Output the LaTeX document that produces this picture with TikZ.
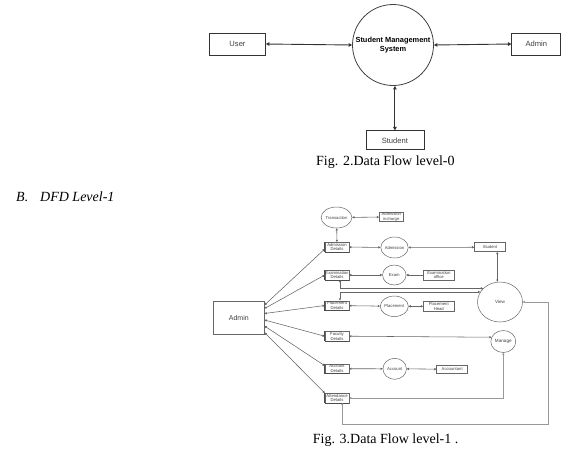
\documentclass[tikz,border=0pt]{standalone}
\usepackage{fontspec}
\setmainfont{Liberation Serif}
\newfontfamily\arialfont{Liberation Sans}
\usetikzlibrary{shapes.geometric,arrows.meta}

\begin{document}
\begin{tikzpicture}[x=1pt,y=-1pt,
        boxzero/.style={draw=black!80, line width=0.7pt, minimum height=22pt, inner sep=0pt,
            text=black!75, font=\arialfont\fontsize{7.6}{9}\selectfont},
        flowzero/.style={draw=black!80, line width=0.9pt,
            {Triangle[length=3.5pt,width=3.5pt]}-{Triangle[length=3.5pt,width=3.5pt]}},
        lonebox/.style={draw=black!60, line width=0.5pt, inner sep=0pt, minimum width=31pt,
            minimum height=9pt, align=center, text=black!75,
            font=\arialfont\fontsize{4.2}{4.6}\selectfont},
        store/.style={lonebox, minimum width=24pt, minimum height=9.5pt,
            append after command={(\tikzlastnode.north west) edge[line width=0.9pt, draw=black!70] (\tikzlastnode.south west)
                (\tikzlastnode.south west) edge[line width=0.9pt, draw=black!70] (\tikzlastnode.south east)}},
        proc/.style={ellipse, draw=black!60, line width=0.5pt, inner sep=0pt, minimum width=23.5pt,
            minimum height=21pt, text=black!75, font=\arialfont\fontsize{4.2}{4.6}\selectfont},
        flow/.style={draw=black!60, line width=0.55pt,
            {Triangle[length=2.2pt,width=2.2pt]}-{Triangle[length=2.2pt,width=2.2pt]}},
        flowone/.style={draw=black!60, line width=0.55pt, -{Triangle[length=2.2pt,width=2.2pt]}},
        flowwide/.style={flow, draw=black!40, line width=1pt}
    ]
    \fill[white] (0,0) rectangle (583,461);
    \useasboundingbox (0,0) rectangle (583,461);

    % level 0
    \node[boxzero, minimum width=56pt] (user) at (237.5,44) {User};
    \node[circle, draw=black!75, line width=0.8pt, minimum size=81pt, inner sep=0pt, align=center,
        font=\arialfont\bfseries\fontsize{7.4}{8.6}\selectfont] (sms) at (393,45) {Student Management\\System};
    \node[boxzero, minimum width=49pt] (admin) at (536.3,44) {Admin};
    \node[boxzero, minimum width=58pt, minimum height=19pt] (stud) at (394.9,140.3) {Student};

    \draw[flowzero] (user.east) -- (sms.west);
    \draw[flowzero] (sms.east) -- (admin.west);
    \draw[flowzero] (stud.north) -- (stud.north |- sms.south);

    \node[anchor=base west, inner sep=0pt, font=\fontsize{14}{16}\selectfont] (capzero) at (316,165.7) {Fig. 2.Data Flow level-0};
    \node[anchor=base west, inner sep=0pt, font=\itshape\fontsize{14}{16}\selectfont] (secb) at (16,201) {B.};
    \node[anchor=base west, inner sep=0pt, font=\itshape\fontsize{14}{16}\selectfont] (sect) at (40,201) {DFD Level-1};

    % level 1
    \node[lonebox, minimum width=51pt, minimum height=32.6pt, font=\arialfont\fontsize{7}{8}\selectfont] (adm) at (238.8,318) {Admin};
    \node[proc] (trans) at (336.5,217.5) {Transaction};
    \node[lonebox, minimum width=24pt, minimum height=9.4pt] (inch) at (391.3,217) {Admission\\incharge};
    \node[store] (admd) at (337,247) {Admission\\Details};
    \node[proc] (admis) at (394.5,247.5) {Admission};
    \node[lonebox] (stu) at (490,247.2) {Student};
    \node[store] (exd) at (337,275) {Examination\\Details};
    \node[proc, minimum height=20pt] (exam) at (394.3,275) {Exam};
    \node[lonebox, minimum height=10pt] (exoff) at (438.8,275) {Examination\\office};
    \node[store] (pld) at (337,305.5) {Placement\\Details};
    \node[proc, minimum height=20.5pt] (place) at (394.3,306.3) {Placement};
    \node[lonebox, minimum height=9.4pt] (plhead) at (438.8,306.3) {Placement\\Head};
    \node[store] (facd) at (337,336.2) {Faculty\\Details};
    \node[store] (accd) at (337,368.7) {Account\\Details};
    \node[proc] (acct) at (394.7,368.8) {Account};
    \node[lonebox, minimum height=8.3pt] (accnt) at (452.2,369.2) {Accountant};
    \node[store] (attd) at (337,398) {Attendance\\Details};
    \node[proc, minimum width=45pt, minimum height=40pt, font=\arialfont\fontsize{4.6}{5}\selectfont] (view) at (500,302) {View};
    \node[proc, minimum width=25pt, minimum height=22pt, font=\arialfont\fontsize{4.6}{5}\selectfont] (manage) at (503.3,341.5) {Manage};

    \path[flow] (trans) edge (inch)
        (trans) edge (admd)
        (admd) edge (admis)
        (admis) edge (stu)
        (exd) edge (exam)
        (pld) edge (place)
        (place) edge (plhead)
        (accd) edge (acct)
        (acct) edge (accnt);
    \path[flowone] (exoff) edge (exam);

    \path[flow] ([yshift=13pt]adm.east) edge ([yshift=-2pt]admd.west)
        ([yshift=9.5pt]adm.east) edge (exd.west)
        ([yshift=4.5pt]adm.east) edge (pld.west)
        ([yshift=-2pt]adm.east) edge (facd.west)
        ([yshift=-8pt]adm.east) edge ([yshift=3pt]accd.west)
        ([yshift=-14.5pt]adm.east) edge (attd.north west);

    \draw[flow] ([xshift=7.3pt]stu.south) -- ([xshift=7.3pt]stu.south |- view.north);
    \draw[flow] ([xshift=3pt]exd.south) |- (view.141);
    \draw[flow] ([xshift=3pt]pld.north) |- (view.153);
    \draw[flow] (facd.east) -- (manage.160);
    \draw[flowwide] (attd.east) -| (manage.south);
    \coordinate (loop) at (548.3,424);
    \draw[flowwide] ([xshift=5.3pt]attd.south) |- (loop) |- (view.east);

    \node[anchor=base west, inner sep=0pt, font=\fontsize{14}{16}\selectfont] (capone) at (312.7,443.3) {Fig. 3.Data Flow level-1 .};
\end{tikzpicture}
\end{document}
